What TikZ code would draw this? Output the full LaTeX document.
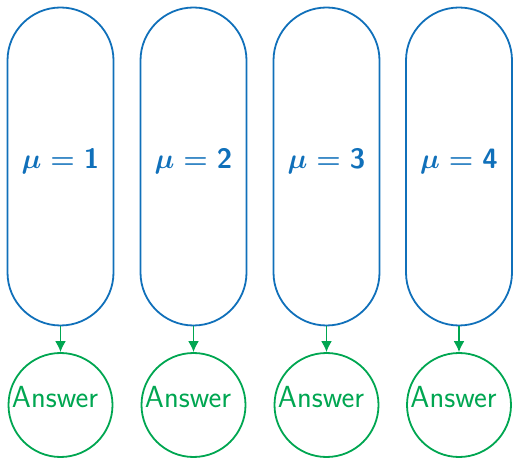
\RequirePackage{fix-cm}
\documentclass[tikz,border=0pt]{standalone}
\usepackage{amsmath,bm}
\usetikzlibrary{arrows.meta}
\definecolor{sblue}{RGB}{16,112,186}
\definecolor{sgreen}{RGB}{0,166,81}
\tikzset{
  pill/.style={draw=sblue, line width=1.8pt, rounded corners=53pt, minimum width=106pt, minimum height=318pt, inner sep=0pt},
  mulabel/.style={text=sblue, font=\fontsize{28}{34}\selectfont\boldmath, inner sep=0pt},
  ans/.style={draw=sgreen, line width=1.8pt, circle, minimum size=104pt, inner sep=0pt},
  anslabel/.style={text=sgreen, font=\fontsize{30.5}{36}\selectfont\sffamily, inner sep=0pt},
  link/.style={draw=sgreen, line width=1.8pt, -{Latex[length=11pt,width=11pt]}}
}
\begin{document}
\begin{tikzpicture}[x=1pt,y=1pt]
\useasboundingbox (0,0) rectangle (513,460);
\foreach \i/\x in {1/60.5,2/193.5,3/326.5,4/459}{
  \node[pill] (p\i) at (\x,293.5) {};
  \node[mulabel] (t\i) at (\x,298) {$\mu = \mathsf{\i}$};
  \node[ans] (a\i) at (\x,55) {};
  \node[anslabel] (l\i) at (\x-5.5,63) {Answer};
  \draw[link] (p\i) -- (a\i);
}
\end{tikzpicture}
\end{document}
